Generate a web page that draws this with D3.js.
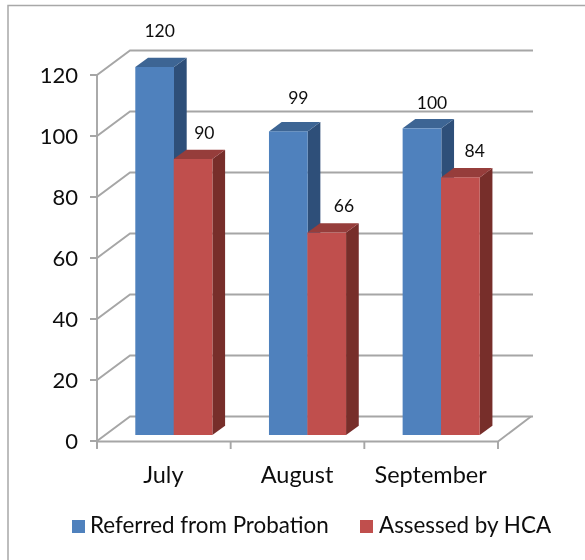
<!DOCTYPE html>
<html><head><meta charset="utf-8">
<script src="https://cdn.jsdelivr.net/npm/d3@7"></script>
<style>html,body{margin:0;padding:0;background:#fff}svg{display:block}text{font-family:Lato,"Open Sans",sans-serif;fill:#111}</style>
</head><body><div id="c"></div>
<script>
const categories=["July","August","September"];
const referred=[120,99,100];
const assessed=[90,66,84];
const seriesNames=["Referred from Probation","Assessed by HCA"];
const yTicks=[0,20,40,60,80,100,120];
const blueLabelNudge=[[5,-9],[10,-6],[10,2]];
const redLabelNudge=[[11,1],[17,0],[14,1]];

const W=585,H=560;
const svg=d3.select("#c").append("svg").attr("width",W).attr("height",H);
svg.append("defs").append("filter").attr("id","soft").append("feGaussianBlur").attr("stdDeviation",0.35);
const root=svg.append("g").attr("filter","url(#soft)");
root.append("path").attr("fill","none").attr("stroke","#a8a8a8").attr("stroke-width",1.5)
  .attr("d",d3.line()([[8,H],[8,5.5],[W,5.5]]));

const y=d3.scaleLinear().domain([0,120]).range([441,75]);
const yBar=d3.scaleLinear().domain([0,120]).range([435,67]);
const x=d3.scaleBand().domain(categories).range([97,498]);
const depth={x:33,y:-24.5}, barDepth={x:12.7,y:-9.3};
const gridC="#a6a6a6";
const gr=root.append("g").attr("fill","none").attr("stroke",gridC).attr("stroke-width",1.9);
const line=d3.line();
yTicks.forEach(t=>{
  gr.append("path").attr("d",line([[90,y(t)],[97,y(t)],[97+depth.x,y(t)+depth.y],[498+depth.x+2,y(t)+depth.y]]));
});
gr.append("path").attr("d",line([[97,y(120)],[97,448]]));
gr.append("path").attr("d",line([[97,441.5],[498,441.5],[498+depth.x,441+depth.y]]));
categories.concat("end").forEach((c,i)=>{
  const px=97+i*x.step();
  gr.append("path").attr("d",line([[px,441],[px,449]]));
});
const palette=[{f:"#4f81bd",t:"#3d6594",s:"#2f5079"},{f:"#c0504d",t:"#963c3a",s:"#772e2c"}];
const barW=38.7;
function bar(px,v,col){
  const top=yBar(v),base=yBar(0),g=root.append("g");
  const dx=barDepth.x,dy=barDepth.y;
  g.append("path").attr("fill",col.s).attr("d",line([[px+barW,top],[px+barW+dx,top+dy],[px+barW+dx,base+dy],[px+barW,base]])+"Z");
  g.append("path").attr("fill",col.t).attr("d",line([[px,top],[px+dx,top+dy],[px+barW+dx,top+dy],[px+barW,top]])+"Z");
  g.append("rect").attr("fill",col.f).attr("x",px).attr("y",top).attr("width",barW).attr("height",base-top);
}
categories.forEach((c,i)=>{
  const x0=x(c)+38.3;
  bar(x0,referred[i],palette[0]);
  bar(x0+barW-.3,assessed[i],palette[1]);
});
categories.forEach((c,i)=>{
  const x0=x(c)+38.3;
  const t=root.append("g").attr("font-size",17.5).attr("text-anchor","middle");
  t.append("text").attr("x",x0+barW/2+blueLabelNudge[i][0]).attr("y",yBar(referred[i])-21+blueLabelNudge[i][1]).text(referred[i]);
  t.append("text").attr("x",x0+barW*1.5+redLabelNudge[i][0]).attr("y",yBar(assessed[i])-21+redLabelNudge[i][1]).text(assessed[i]);
  root.append("text").attr("x",x(c)+x.bandwidth()/2-.5).attr("y",483).attr("font-size",23.5).attr("text-anchor","middle").text(c);
});
root.append("g").attr("font-size",22).attr("text-anchor","end").selectAll("text").data(yTicks).join("text")
  .attr("x",78).attr("y",d=>y(d)+7.5).text(d=>d);
const lg=root.append("g").attr("font-size",22.4);
[[72,90],[360,379]].forEach((p,i)=>{
  lg.append("rect").attr("x",p[0]).attr("y",520).attr("width",13).attr("height",13).attr("fill",palette[i].f);
  lg.append("text").attr("x",p[1]).attr("y",533).text(seriesNames[i]);
});
</script></body></html>
